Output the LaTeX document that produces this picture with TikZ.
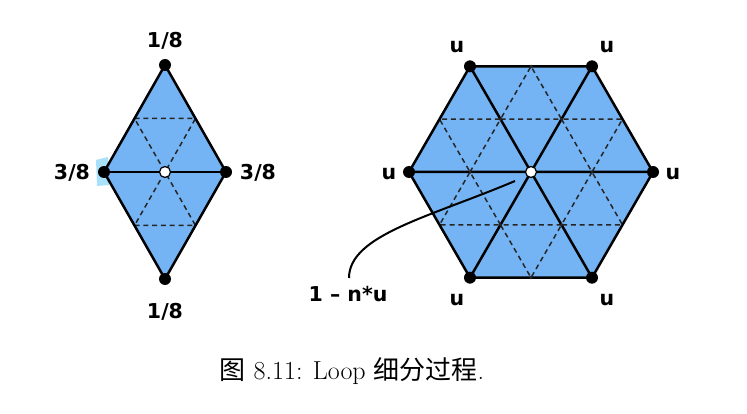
\documentclass[tikz,border=0pt]{standalone}
\usepackage{fontspec}
\usetikzlibrary{calc}
\newfontfamily\lblfont{DejaVu Sans Bold}
\newfontfamily\cjkfont{Noto Sans CJK SC}
\definecolor{triblue}{RGB}{116,180,245}
\definecolor{glint}{RGB}{170,225,250}
\begin{document}
\begin{tikzpicture}[x=1pt,y=-1pt,
  edge/.style={line width=2.5pt, line join=round},
  sub/.style={line width=1.5pt, dash pattern=on 5pt off 3.8pt, draw=black!85},
  vdot/.style={circle, fill=black, inner sep=0pt, minimum size=12pt},
  cdot/.style={circle, fill=white, draw=black, line width=1.2pt, inner sep=0pt, minimum size=11pt},
  mdot/.style={circle, fill=black!85, inner sep=0pt, minimum size=3.5pt},
  lbl/.style={font=\lblfont\fontsize{20.5}{23}\selectfont, inner sep=0pt, text=black},
  lead/.style={line width=2pt},
]
\useasboundingbox (0,0) rectangle (747,414);
% ---------- left diamond ----------
\coordinate (dT) at (165,65);
\coordinate (dB) at (165,279);
\coordinate (dL) at (104,172);
\coordinate (dR) at (226,172);
\coordinate (dC) at (165,172);
\fill[glint] (96,160) -- (108,157) -- (109,185) -- (97,186) -- cycle;
\fill[triblue] (dT) -- (dR) -- (dB) -- (dL) -- cycle;
\draw[sub] ($(dT)!.5!(dL)$) -- ($(dT)!.5!(dR)$) -- (dC) -- cycle;
\draw[sub] ($(dB)!.5!(dL)$) -- ($(dB)!.5!(dR)$) -- (dC) -- cycle;
\draw[edge] (dT) -- (dR) -- (dB) -- (dL) -- cycle;
\draw[edge] (dL) -- (dR);
\foreach \p in {dT,dB,dL,dR} \node[vdot] (v\p) at (\p) {};
\node[cdot] (vdC) at (dC) {};
\node[lbl] (l1) at (165,41) {1/8};
\node[lbl] (l2) at (165,312) {1/8};
\node[lbl] (l3) at (72,173) {3/8};
\node[lbl] (l4) at (258,173) {3/8};
% ---------- hexagon ----------
\coordinate (hC) at (531,172);
\foreach \i/\a in {1/0,2/60,3/120,4/180,5/240,6/300}
  \coordinate (h\i) at ($(hC)+(\a:122)$);
\fill[triblue] (h1) -- (h2) -- (h3) -- (h4) -- (h5) -- (h6) -- cycle;
\foreach \i/\j in {1/2,2/3,3/4,4/5,5/6,6/1}
  \draw[sub] ($(hC)!.5!(h\i)$) -- ($(hC)!.5!(h\j)$) -- ($(h\i)!.5!(h\j)$) -- cycle;
\draw[edge] (h1) -- (h2) -- (h3) -- (h4) -- (h5) -- (h6) -- cycle;
\draw[edge] (h1) -- (h4) (h2) -- (h5) (h3) -- (h6);
\foreach \i in {1,...,6} \node[mdot] (m\i) at ($(hC)!.5!(h\i)$) {};
\node[mdot] (me2) at ($(h2)!.5!(h3)$) {};
\node[mdot] (me5) at ($(h5)!.5!(h6)$) {};
\foreach \i in {1,...,6} \node[vdot] (vh\i) at (h\i) {};
\node[cdot] (vhC) at (hC) {};
\node[lbl] (u1) at (673,174) {u};
\node[lbl] (u2) at (607,300) {u};
\node[lbl] (u3) at (457,300) {u};
\node[lbl] (u4) at (389,174) {u};
\node[lbl] (u5) at (457,47) {u};
\node[lbl] (u6) at (607,47) {u};
% ---------- leader ----------
\node[lbl] (nl) at (348,294) {1 – n*u};
\coordinate (cs) at (515,181);
\coordinate (ce) at (349,278);
\draw[lead] (cs) .. controls (430,217) and (349,235) .. (ce);
% ---------- caption ----------
\node[font=\fontsize{26}{30}\selectfont, inner sep=0pt] (cap) at (352,371)
  {{\cjkfont 图} 8.11: Loop {\cjkfont 细分过程}.};
\end{tikzpicture}
\end{document}
